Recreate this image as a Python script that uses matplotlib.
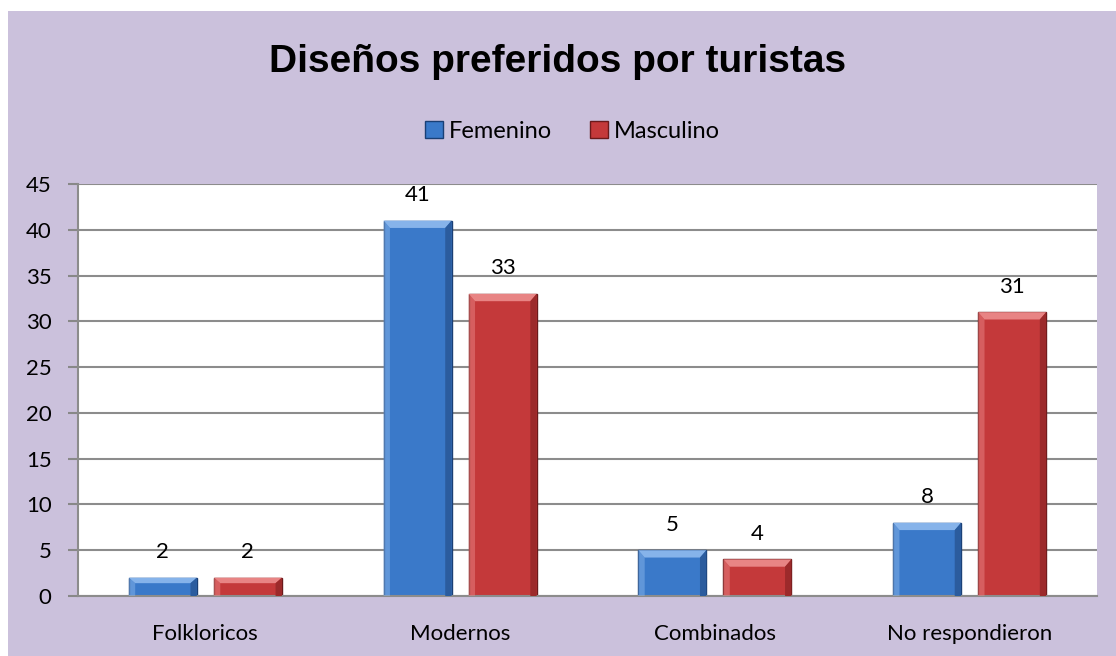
import matplotlib.pyplot as plt
import numpy as np
from matplotlib.patches import Rectangle, Polygon

categorias = ['Folkloricos', 'Modernos', 'Combinados', 'No respondieron']
femenino = [2, 41, 5, 8]
masculino = [2, 33, 4, 31]
series = ['Femenino', 'Masculino']
yticks = [0, 5, 10, 15, 20, 25, 30, 35, 40, 45]

fondo = '#CBC1DC'
caras = ['#3A79C9', '#C4393A']
bordes = ['#1A3F75', '#6A1A1B']
luces = ['#86B3EA', '#E88484']
sombras = ['#2B5C9E', '#9C2A2B']

fig = plt.figure(figsize=(11.16, 6.56), dpi=100)
fig.patch.set_facecolor('white')
fig.patches.append(Rectangle((8 / 1116, 0), 1, 1 - 11 / 656, transform=fig.transFigure,
                             facecolor=fondo, edgecolor='none', zorder=-10))

ax = fig.add_axes([78 / 1116, 1 - 596 / 656, (1097 - 78) / 1116, (596 - 184) / 656])
ax.set_facecolor('white')

x = np.arange(len(categorias))
w = 0.267
off = 0.167


def bisel(ax, xc, h, k):
    # efecto de bisel simple sobre cada barra
    x0, x1 = xc - w / 2, xc + w / 2
    dy = min(0.8, h * 0.3)
    dx = 0.025
    ax.add_patch(Polygon([(x0, h), (x1, h), (x1 - dx, h - dy), (x0 + dx, h - dy)],
                         closed=True, facecolor=luces[k], edgecolor='none', zorder=3))
    ax.add_patch(Polygon([(x0, 0), (x0, h), (x0 + dx, h - dy), (x0 + dx, 0)],
                         closed=True, facecolor=luces[k], edgecolor='none', alpha=0.5, zorder=3))
    ax.add_patch(Polygon([(x1, 0), (x1, h), (x1 - dx, h - dy), (x1 - dx, 0)],
                         closed=True, facecolor=sombras[k], edgecolor='none', zorder=3))


for k, vals in enumerate([femenino, masculino]):
    pos = x - off if k == 0 else x + off
    ax.bar(pos, vals, width=w, color=caras[k], edgecolor=bordes[k], linewidth=1,
           label=series[k], zorder=2)
    for xc, v in zip(pos, vals):
        bisel(ax, xc, v, k)
        ax.text(xc, v + 1.7, str(v), ha='center', va='bottom', fontsize=16,
                family='Lato', color='black')

ax.set_xlim(-0.5, len(categorias) - 0.5)
ax.set_ylim(0, 45)
ax.set_yticks(yticks)
ax.set_xticks(x)
ax.set_xticklabels(categorias, fontsize=16, family='Lato')
ax.tick_params(axis='y', labelsize=16, length=7, color='#888888', width=1.5, pad=12)
ax.tick_params(axis='x', length=0, pad=20)
for t in ax.get_yticklabels():
    t.set_family('Lato')
ax.grid(axis='y', color='#8C8C8C', linewidth=1.5, zorder=0)
ax.set_axisbelow(True)
for s in ['top', 'right']:
    ax.spines[s].set_visible(False)
ax.spines['left'].set_color('#8C8C8C')
ax.spines['left'].set_linewidth(1.5)
ax.spines['bottom'].set_color('#8C8C8C')
ax.spines['bottom'].set_linewidth(1.5)

fig.text(0.5, 1 - 62 / 656, 'Diseños preferidos por turistas', ha='center', va='center',
         fontsize=28, fontweight='bold', family='Liberation Sans')

leg = fig.legend(loc='center', bbox_to_anchor=(0.513, 1 - 131 / 656), ncol=2, frameon=False,
                 prop={'family': 'Lato', 'size': 17}, handlelength=0.75, handleheight=0.75,
                 handletextpad=0.25, columnspacing=1.6)

fig.savefig('out.png', dpi=100, facecolor=fig.get_facecolor())
